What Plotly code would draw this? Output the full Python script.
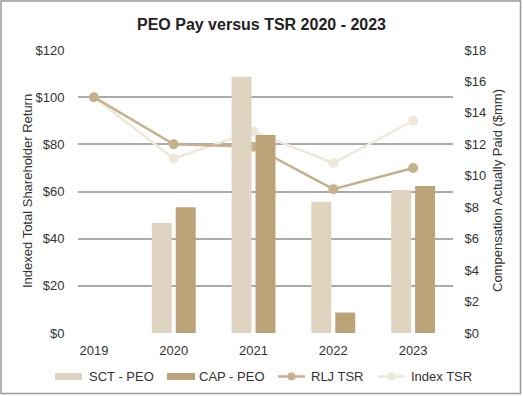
import plotly.graph_objects as go

years = [2019, 2020, 2021, 2022, 2023]
bar_years = [2020, 2021, 2022, 2023]
sct_peo = [7.0, 16.3, 8.35, 9.1]
cap_peo = [8.0, 12.6, 1.3, 9.35]
rlj_tsr = [100, 80, 79, 61, 70]
index_tsr = [100, 74, 85.5, 72, 90]
left_ticks = [0, 20, 40, 60, 80, 100, 120]
right_ticks = [0, 2, 4, 6, 8, 10, 12, 14, 16, 18]
legend_names = ["SCT - PEO", "CAP - PEO", "RLJ TSR", "Index TSR"]

C_SCT = "#DFD4BF"
C_CAP = "#BBA377"
C_RLJ = "#C6B18C"
C_IDX = "#EEE7DA"
FONT = "Liberation Sans, Arial, sans-serif"
TXT = "#333333"

L, R, T, B = 78, 70, 50, 63
W, H = 523, 396
pw, ph = W - L - R, H - T - B


def px(x):
    return (x - L) / pw


def py(y):
    return (H - B - y) / ph


fig = go.Figure()
fig.add_trace(go.Bar(x=[y - 0.15 for y in bar_years], y=sct_peo, width=0.25,
                     marker=dict(color=C_SCT, line=dict(width=0)), yaxis="y2",
                     name=legend_names[0]))
fig.add_trace(go.Bar(x=[y + 0.15 for y in bar_years], y=cap_peo, width=0.25,
                     marker=dict(color=C_CAP, line=dict(width=0)), yaxis="y2",
                     name=legend_names[1]))
fig.add_trace(go.Scatter(x=years, y=index_tsr, mode="lines+markers", name=legend_names[3],
                         line=dict(color=C_IDX, width=2.5), marker=dict(size=10, color=C_IDX)))
fig.add_trace(go.Scatter(x=years, y=rlj_tsr, mode="lines+markers", name=legend_names[2],
                         line=dict(color=C_RLJ, width=2.5), marker=dict(size=10, color=C_RLJ)))

# manual legend
shapes = []
annotations = []
leg_y = 376.5
items = [
    (legend_names[0], C_SCT, "bar", 55, 82, 87),
    (legend_names[1], C_CAP, "bar", 167, 195, 197),
    (legend_names[2], C_RLJ, "line", 278, 305, 309),
    (legend_names[3], C_IDX, "line", 378, 405, 409),
]
for name, col, kind, x0, x1, tx in items:
    if kind == "bar":
        shapes.append(dict(type="rect", xref="paper", yref="paper",
                           x0=px(x0), x1=px(x1), y0=py(leg_y + 3.5), y1=py(leg_y - 3.5),
                           fillcolor=col, line=dict(width=0)))
    else:
        shapes.append(dict(type="line", xref="paper", yref="paper",
                           x0=px(x0), x1=px(x1), y0=py(leg_y), y1=py(leg_y),
                           line=dict(color=col, width=2.5)))
        cx = (x0 + x1) / 2
        shapes.append(dict(type="circle", xref="paper", yref="paper",
                           x0=px(cx - 4), x1=px(cx + 4), y0=py(leg_y + 4), y1=py(leg_y - 4),
                           fillcolor=col, line=dict(width=0)))
    annotations.append(dict(text=name, xref="paper", yref="paper", x=px(tx), y=py(leg_y),
                            xanchor="left", yanchor="middle", showarrow=False,
                            font=dict(size=13, color=TXT, family=FONT)))

# axis titles
annotations.append(dict(text="Indexed Total Shareholder Return", xref="paper", yref="paper",
                        x=px(27), y=py(191), textangle=-90, xanchor="center",
                        yanchor="middle", showarrow=False,
                        font=dict(size=13, color=TXT, family=FONT)))
annotations.append(dict(text="Compensation Actually Paid ($mm)", xref="paper", yref="paper",
                        x=px(497), y=py(191), textangle=-90, xanchor="center",
                        yanchor="middle", showarrow=False,
                        font=dict(size=13, color=TXT, family=FONT)))

shapes.append(dict(type="rect", xref="paper", yref="paper",
                   x0=px(1), x1=px(520.5), y0=py(393.5), y1=py(1),
                   line=dict(color="#999999", width=1.5), fillcolor="rgba(0,0,0,0)",
                   layer="above"))

fig.update_layout(
    width=W, height=H,
    margin=dict(l=L, r=R, t=T, b=B, pad=0, autoexpand=False),
    paper_bgcolor="white", plot_bgcolor="white",
    showlegend=False,
    font=dict(family=FONT, size=13, color=TXT),
    title=dict(text="<b>PEO Pay versus TSR 2020 - 2023</b>", x=0.5, xanchor="center",
               y=1 - 24 / H, yanchor="middle", font=dict(size=16, color="#222222")),
    barmode="overlay",
    xaxis=dict(range=[2018.8, 2023.5], tickmode="array", tickvals=years,
               ticktext=[str(y) for y in years], showgrid=False, zeroline=False,
               showline=False, ticks="outside", ticklen=5, tickcolor="rgba(0,0,0,0)",
               tickfont=dict(size=13, color=TXT), automargin=False),
    yaxis=dict(range=[0, 120], tickmode="array", tickvals=left_ticks,
               ticktext=["$" + str(v) for v in left_ticks], showgrid=True,
               gridcolor="#AAAAAA", gridwidth=1.5, zeroline=False, showline=False,
               ticks="outside", ticklen=10, tickcolor="rgba(0,0,0,0)", automargin=False),
    yaxis2=dict(range=[0, 18], overlaying="y", side="right", tickmode="array",
                tickvals=right_ticks, ticktext=["$" + str(v) for v in right_ticks],
                showgrid=False, zeroline=False, showline=False, ticks="outside",
                ticklen=8, tickcolor="rgba(0,0,0,0)", automargin=False),
    shapes=shapes,
    annotations=annotations,
)

fig.write_html("out.html", post_script="document.body.style.margin='0';",
               config={"displayModeBar": False})
